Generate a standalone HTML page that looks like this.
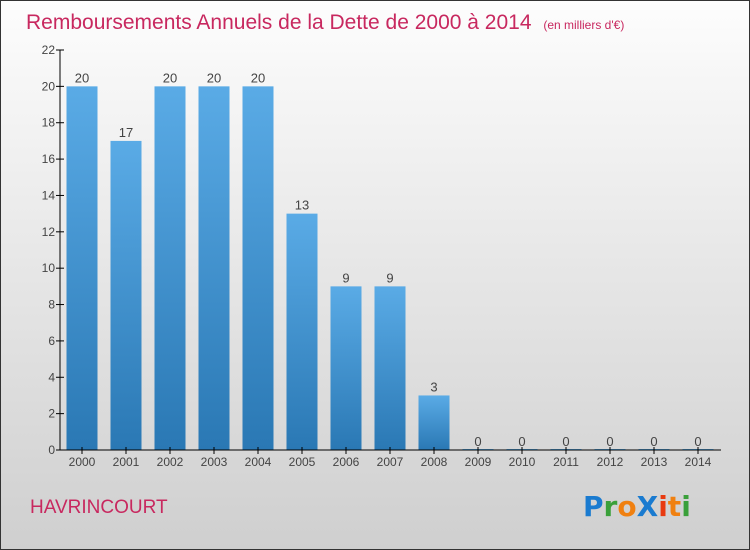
<!DOCTYPE html>
<html><head><meta charset="utf-8"><style>
html,body{margin:0;padding:0}
svg{display:block;font-family:"Liberation Sans",sans-serif}
</style></head><body>
<svg id="c" width="750" height="550" xmlns="http://www.w3.org/2000/svg">
<defs>
<linearGradient id="bg" x1="0" y1="0" x2="0" y2="1"><stop offset="0" stop-color="#fdfdfd"/><stop offset="1" stop-color="#cfcfcf"/></linearGradient>
<linearGradient id="bar" x1="0" y1="0" x2="0" y2="1"><stop offset="0" stop-color="#5aabe6"/><stop offset="1" stop-color="#2a78b4"/></linearGradient>
</defs>
<rect x="0.5" y="0.5" width="749" height="549" fill="url(#bg)" stroke="#333"/>
<text x="26" y="29" font-size="21" fill="#c8285f">Remboursements Annuels de la Dette de 2000 à 2014 <tspan font-size="12" dx="6">(en milliers d'€)</tspan></text>
<text x="30" y="513" font-size="19" fill="#c8285f">HAVRINCOURT</text>
<g font-size="28" font-weight="bold" font-family="'DejaVu Sans',sans-serif">
<text x="583" y="516"><tspan fill="#1a7bd0">P</tspan><tspan fill="#3aa03a">r</tspan><tspan fill="#f08010">o</tspan><tspan fill="#1a7bd0">X</tspan><tspan fill="#e83a10">i</tspan><tspan fill="#f08010">t</tspan><tspan fill="#3aa03a">i</tspan></text>
</g>
<g id="plot"></g>
</svg>
<script>
const categories=["2000","2001","2002","2003","2004","2005","2006","2007","2008","2009","2010","2011","2012","2013","2014"];
const values=[20,17,20,20,20,13,9,9,3,0,0,0,0,0,0];
const yTicks=[0,2,4,6,8,10,12,14,16,18,20,22];
const NS="http://www.w3.org/2000/svg";
const g=document.getElementById('plot');
const y0=450,yTop=50,yMax=22,x0=82,step=44,bw=31;
const ys=v=>y0-(v/yMax)*(y0-yTop);
const xs=i=>x0+i*step;
function mk(t,a){const e=document.createElementNS(NS,t);for(const k in a)e.setAttribute(k,a[k]);g.appendChild(e);return e;}
yTicks.forEach(t=>{
 const l=mk('line',{x1:56,x2:64,y1:ys(t),y2:ys(t),stroke:'#000'});
 
 
 const tx=mk('text',{x:55,y:ys(t)+4,'text-anchor':'end','font-size':12,fill:'#444'});
 tx.textContent=t;
 
 
});
values.forEach((v,i)=>{
 const h=y0-ys(v);
 const r=mk('rect',{x:xs(i)-bw/2,y:ys(v)-(v?0:1),width:bw,height:h+(v?0:1),fill:v?'url(#bar)':'#5aabe6'});
 
 
 const lb=mk('text',{x:xs(i),y:ys(v)-4,'text-anchor':'middle','font-size':13,fill:'#444'});
 lb.textContent=v;
 
 
 const tk=mk('line',{x1:xs(i),x2:xs(i),y1:y0-3,y2:y0+4,stroke:'#000'});
 
 
 const xl=mk('text',{x:xs(i),y:466,'text-anchor':'middle','font-size':12,fill:'#444'});
 xl.textContent=categories[i];
 
 
});
const ya=mk('line',{x1:60,x2:60,y1:yTop,y2:y0,stroke:'#000'});


const xa=mk('line',{x1:60,x2:721,y1:y0,y2:y0,stroke:'#000'});


</script>
</body></html>
